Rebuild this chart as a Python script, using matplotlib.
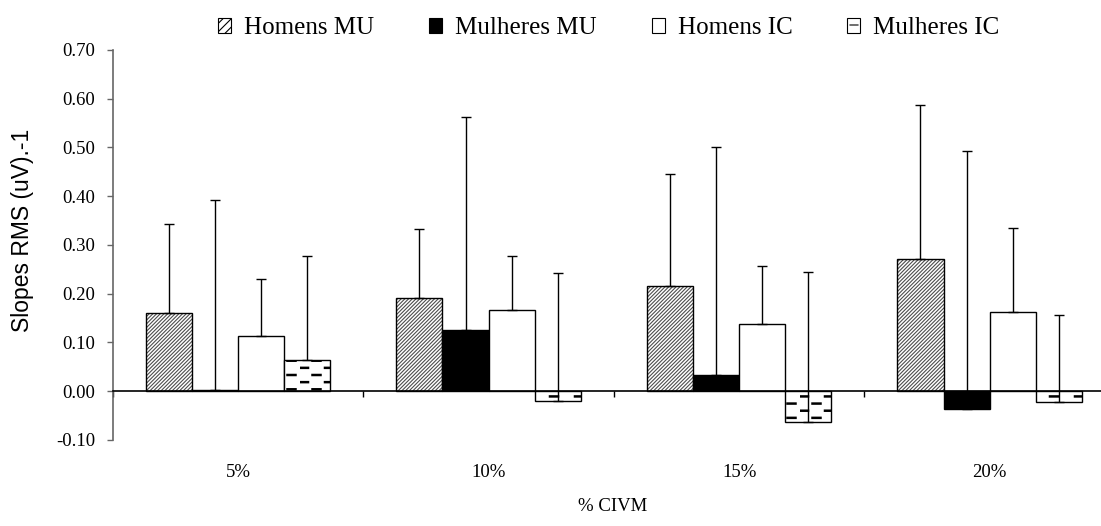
import warnings
import numpy as np
import matplotlib
matplotlib.use('Agg')
from matplotlib import pyplot as plt
from matplotlib import hatch as mhatch
from matplotlib.path import Path
from matplotlib.patches import Patch

warnings.filterwarnings('ignore')

# data
categories = ['5%', '10%', '15%', '20%']
series = ['Homens MU', 'Mulheres MU', 'Homens IC', 'Mulheres IC']
homens_mu = [0.160, 0.190, 0.216, 0.270]
mulheres_mu = [0.003, 0.125, 0.032, -0.037]
homens_ic = [0.112, 0.166, 0.138, 0.162]
mulheres_ic = [0.063, -0.020, -0.064, -0.023]
# top of the (upper only) error bars
homens_mu_top = [0.342, 0.333, 0.445, 0.588]
mulheres_mu_top = [0.392, 0.562, 0.500, 0.492]
homens_ic_top = [0.230, 0.277, 0.257, 0.335]
mulheres_ic_top = [0.277, 0.242, 0.245, 0.157]
yticks = [-0.10, 0.00, 0.10, 0.20, 0.30, 0.40, 0.50, 0.60, 0.70]


# dashed hatch for "Mulheres IC" (custom hatch char '_')
class DashHatch(mhatch.HatchPatternBase):
    rows = 14
    per_row = 4
    dash = 0.08

    def __init__(self, hatch, density):
        self.on = '_' in hatch
        self.num_vertices = self.rows * self.per_row * 2 if self.on else 0

    def set_vertices_and_codes(self, vertices, codes):
        k = 0
        for r in range(self.rows):
            y = (r + 0.5) / self.rows
            off = 0.5 / self.per_row if r % 2 else 0.0
            for c in range(self.per_row):
                x0 = c / self.per_row + off
                vertices[k] = (x0, y)
                vertices[k + 1] = (x0 + self.dash, y)
                codes[k] = Path.MOVETO
                codes[k + 1] = Path.LINETO
                k += 2


mhatch._hatch_types.append(DashHatch)

serif = 'Liberation Serif'
plt.rcParams['hatch.linewidth'] = 0.8

fig = plt.figure(figsize=(11.01, 5.26), dpi=100)
ax = fig.add_axes([0.1024, 0.164, 0.9103, 0.741])

values = [homens_mu, mulheres_mu, homens_ic, mulheres_ic]
tops = [homens_mu_top, mulheres_mu_top, homens_ic_top, mulheres_ic_top]
fills = ['white', 'black', 'white', 'white']
hatches = ['/////////', None, None, '_']
hatch_lw = [0.8, 0.8, 0.8, 1.8]

gap = 0.1317
w = (1 - 2 * gap) / 4
x = np.arange(len(categories))
handles = []
for j in range(4):
    pos = x + gap + w * (j + 0.5)
    v = np.array(values[j])
    up = np.array(tops[j]) - v
    bars = ax.bar(pos, v, width=w, color=fills[j], edgecolor='black',
                  linewidth=1.0, hatch=hatches[j], zorder=2)
    for b in bars:
        if hasattr(b, 'set_hatch_linewidth'):
            b.set_hatch_linewidth(hatch_lw[j])
        if j == 0:
            b._hatch_color = (0.3, 0.3, 0.3, 1)
    ax.errorbar(pos, v, yerr=[np.zeros_like(up), up], fmt='none',
                ecolor='black', elinewidth=1.0, capsize=3.5, capthick=1.0,
                zorder=3)
    handles.append(Patch(facecolor=fills[j], edgecolor='black',
                         hatch=(hatches[j] if j != 0 else '////'),
                         linewidth=0.8, label=series[j]))

ax.set_xlim(0, len(categories))
ax.set_ylim(-0.10, 0.70)
ax.spines['top'].set_visible(False)
ax.spines['right'].set_visible(False)
ax.spines['bottom'].set_position(('data', 0))
ax.spines['left'].set_color('#666666')
ax.spines['left'].set_linewidth(1.2)
ax.spines['bottom'].set_linewidth(1.2)

ax.set_yticks(yticks)
ax.set_yticklabels(['%.2f' % t for t in yticks], fontfamily=serif,
                   fontsize=13.5)
ax.tick_params(axis='y', direction='out', length=4, width=1, color='#666666',
               pad=8.5)
ax.set_xticks(np.arange(len(categories) + 1))
ax.set_xticklabels([])
ax.tick_params(axis='x', direction='out', length=4, width=1)

for i, c in enumerate(categories):
    ax.text(i + 0.5, -0.085, c, transform=ax.get_xaxis_transform(),
            ha='center', va='center', fontfamily=serif, fontsize=13.5)
fig.text(0.556, 0.038, '% CIVM', ha='center', va='center', fontfamily=serif,
         fontsize=13.5)
ax.set_ylabel('Slopes RMS (uV).-1', fontfamily='Liberation Sans',
              fontsize=16.5)
ax.yaxis.set_label_coords(-0.079, 0.538)

fig.legend(handles=handles, loc='center', bbox_to_anchor=(0.553, 0.946),
           ncol=4, frameon=False, prop={'family': serif, 'size': 18},
           handlelength=0.52, handleheight=0.52, handletextpad=0.52,
           columnspacing=2.2)

fig.savefig('out.png', dpi=100)
